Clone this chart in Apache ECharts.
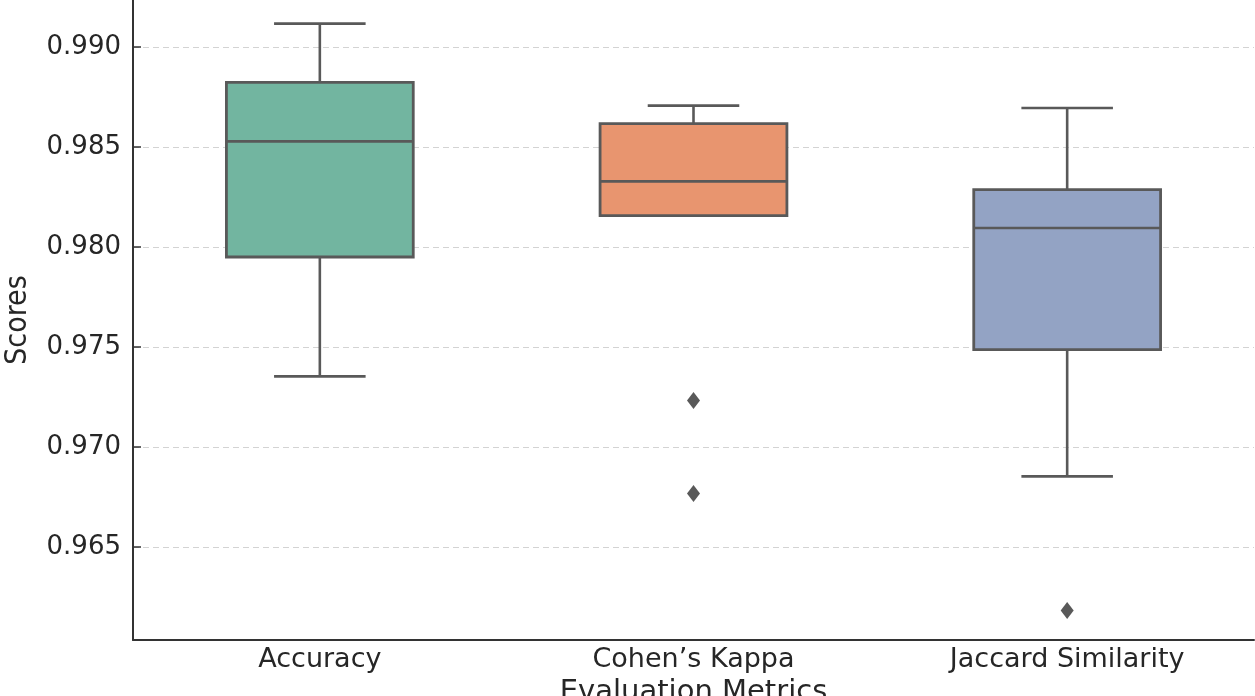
<!DOCTYPE html>
<html>
<head>
<meta charset="utf-8">
<script src="https://cdn.jsdelivr.net/npm/echarts@6/dist/echarts.min.js"></script>
<style>html,body{margin:0;padding:0;background:#fff;overflow:hidden}#c{width:1255px;height:696px}</style>
</head>
<body>
<div id="c"></div>
<script>
const categories = ['Accuracy', 'Cohen\u2019s Kappa', 'Jaccard Similarity'];
// [lower whisker, Q1, median, Q3, upper whisker]
const accuracyBox = [0.97353, 0.97950, 0.98528, 0.98823, 0.99117];
const kappaBox    = [0.98157, 0.98157, 0.98328, 0.98617, 0.98707];
const jaccardBox  = [0.96853, 0.97487, 0.98095, 0.98287, 0.98695];
const kappaOutliers   = [0.97232, 0.96767];
const jaccardOutliers = [0.96182];
const boxColors = ['#72b5a0', '#e8956f', '#93a3c4'];
const yTicks = [0.965, 0.970, 0.975, 0.980, 0.985, 0.990];

const boxes = [accuracyBox, kappaBox, jaccardBox];
const boxData = boxes.map((b, i) => [i].concat(b));
const outlierData = []
  .concat(kappaOutliers.map(v => [1, v]))
  .concat(jaccardOutliers.map(v => [2, v]));

const edge = '#595959';

function renderBox(params, api) {
  const i = api.value(0);
  const lo = api.coord([i, api.value(1)]);
  const q1 = api.coord([i, api.value(2)]);
  const md = api.coord([i, api.value(3)]);
  const q3 = api.coord([i, api.value(4)]);
  const hi = api.coord([i, api.value(5)]);
  const band = api.size([1, 0])[0];
  const bw = band * 0.5;
  const cw = band * 0.245;
  const x = lo[0];
  const ls = { stroke: edge, lineWidth: 2.6 };
  return {
    type: 'group',
    children: [
      { type: 'line', shape: { x1: x, y1: hi[1], x2: x, y2: q3[1] }, style: ls },
      { type: 'line', shape: { x1: x, y1: lo[1], x2: x, y2: q1[1] }, style: ls },
      { type: 'line', shape: { x1: x - cw / 2, y1: hi[1], x2: x + cw / 2, y2: hi[1] }, style: ls },
      { type: 'line', shape: { x1: x - cw / 2, y1: lo[1], x2: x + cw / 2, y2: lo[1] }, style: ls },
      { type: 'rect', shape: { x: x - bw / 2, y: q3[1], width: bw, height: q1[1] - q3[1] },
        style: { fill: boxColors[i], stroke: edge, lineWidth: 2.8 } },
      { type: 'line', shape: { x1: x - bw / 2, y1: md[1], x2: x + bw / 2, y2: md[1] }, style: ls }
    ]
  };
}

const chart = echarts.init(document.getElementById('c'), null, { renderer: 'canvas' });
chart.setOption({
  animation: false,
  backgroundColor: '#fff',
  grid: { left: 133, right: 1, top: 0, bottom: 56, containLabel: false, outerBoundsMode: 'none' },
  xAxis: {
    type: 'category',
    data: categories,
    boundaryGap: true,
    name: 'Evaluation Metrics',
    nameLocation: 'middle',
    nameGap: 28,
    nameTextStyle: { fontFamily: 'DejaVu Sans', fontSize: 29, color: '#262626' },
    axisLine: { lineStyle: { color: '#333', width: 2 } },
    axisTick: { inside: true, alignWithLabel: true, length: 6, lineStyle: { color: '#333', width: 1.5 } },
    axisLabel: { fontFamily: 'DejaVu Sans', fontSize: 27, color: '#262626', margin: 6 },
    splitLine: { show: false }
  },
  yAxis: {
    type: 'value',
    min: 0.96035,
    max: 0.99235,
    minInterval: 0.005,
    maxInterval: 0.005,
    name: 'Scores',
    nameLocation: 'middle',
    nameGap: 100,
    nameTextStyle: { fontFamily: 'DejaVu Sans Condensed, DejaVu Sans', fontSize: 30, color: '#262626' },
    axisLine: { show: true, lineStyle: { color: '#333', width: 2 } },
    axisTick: { show: true, inside: true, length: 8, lineStyle: { color: '#333', width: 1.5 } },
    axisLabel: {
      fontFamily: 'DejaVu Sans', fontSize: 26, color: '#262626', margin: 12,
      showMinLabel: false, showMaxLabel: false,
      formatter: v => (yTicks.some(t => Math.abs(t - v) < 1e-9) ? v.toFixed(3) : '')
    },
    splitLine: { show: true, showMinLine: false, showMaxLine: false,
      lineStyle: { color: '#d3d3d3', type: [6, 4], width: 1.2 } }
  },
  series: [
    {
      type: 'custom',
      renderItem: renderBox,
      data: boxData,
      encode: { x: 0, y: [1, 2, 3, 4, 5] },
      z: 3
    },
    {
      type: 'scatter',
      data: outlierData,
      symbol: 'diamond',
      symbolSize: [13, 17],
      itemStyle: { color: edge, opacity: 1 },
      z: 4
    }
  ]
});
</script>
</body>
</html>
